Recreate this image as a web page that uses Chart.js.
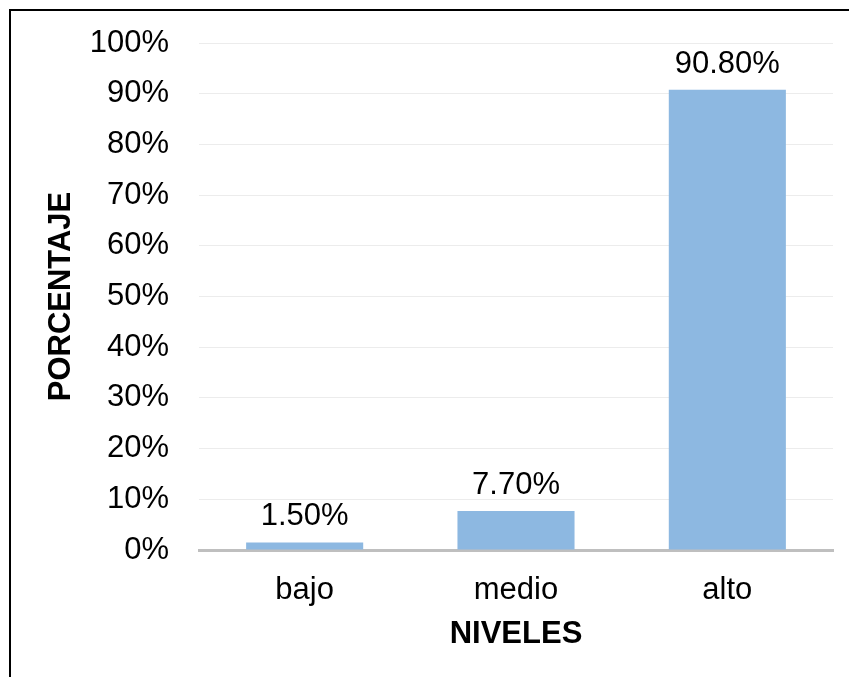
<!DOCTYPE html>
<html lang="es">
<head>
    <meta charset="UTF-8">
    <title>Niveles - Porcentaje</title>
    <script src="https://cdn.jsdelivr.net/npm/chart.js"></script>
    <style>
        html, body { margin: 0; padding: 0; background: #fff; overflow: hidden; }
        .frame {
            position: absolute; left: 9px; top: 9px; width: 900px; height: 700px;
            border-left: 2px solid #000; border-top: 2px solid #000;
            pointer-events: none;
        }
        canvas { display: block; }
    </style>
</head>
<body>
    <div class="frame"></div>
    <canvas id="nivelesChart" width="849" height="677"></canvas>

    <script>
        // datos
        const niveles = ['bajo', 'medio', 'alto'];
        const porcentajes = [1.5, 7.7, 90.8];
        const ticksY = [0, 10, 20, 30, 40, 50, 60, 70, 80, 90, 100];

        const FONT = 'Liberation Sans, Arial, sans-serif';

        // etiquetas de valor encima de cada barra
        const valueLabels = {
            id: 'valueLabels',
            afterDatasetsDraw(chart) {
                const ctx = chart.ctx;
                const meta = chart.getDatasetMeta(0);
                ctx.save();
                ctx.font = '31px ' + FONT;
                ctx.fillStyle = '#000';
                ctx.textAlign = 'center';
                ctx.textBaseline = 'alphabetic';
                meta.data.forEach((bar, i) => {
                    ctx.fillText(porcentajes[i].toFixed(2) + '%', bar.x, bar.y - 17);
                });
                ctx.restore();
            }
        };

        new Chart(document.getElementById('nivelesChart'), {
            type: 'bar',
            data: {
                labels: niveles,
                datasets: [{
                    data: porcentajes,
                    backgroundColor: '#8db8e1',
                    categoryPercentage: 1,
                    barPercentage: 0.554
                }]
            },
            options: {
                responsive: false,
                animation: false,
                devicePixelRatio: 1,
                layout: { padding: { top: 43, right: 16, bottom: 0, left: 0 } },
                plugins: {
                    legend: { display: false },
                    tooltip: { enabled: false }
                },
                scales: {
                    x: {
                        z: 1,
                        grid: { display: false },
                        border: { display: true, color: '#bfbfbf', width: 3 },
                        ticks: { color: '#000', font: { family: FONT, size: 31 }, padding: 14 },
                        title: {
                            display: true, text: 'NIVELES', color: '#000',
                            font: { family: FONT, size: 31, weight: 'bold' },
                            padding: { top: 0, bottom: 24 }
                        },
                        afterFit(scale) { scale.height = 127; }
                    },
                    y: {
                        min: 0,
                        max: 100,
                        afterBuildTicks(scale) { scale.ticks = ticksY.map(v => ({ value: v })); },
                        grid: { color: '#ececec', lineWidth: 1, drawTicks: false },
                        border: { display: false },
                        ticks: {
                            color: '#000', padding: 30,
                            font: { family: FONT, size: 31 },
                            callback: v => v + '%'
                        },
                        title: {
                            display: true, text: 'PORCENTAJE', color: '#000',
                            font: { family: FONT, size: 31, weight: 'bold' },
                            padding: { top: 43, bottom: 0 }
                        },
                        afterFit(scale) {
                            scale.width = 199;
                            scale.paddingTop = 0;
                            scale.paddingBottom = 0;
                        }
                    }
                }
            },
            plugins: [valueLabels]
        });
    </script>
</body>
</html>
